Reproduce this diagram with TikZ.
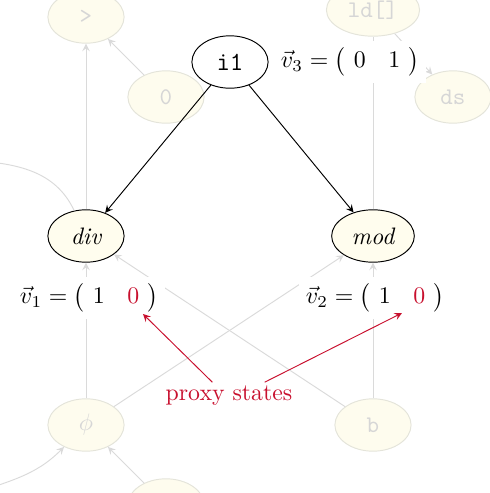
\documentclass[tikz,border=0pt]{standalone}
\usetikzlibrary{shapes.geometric}
\definecolor{ghostline}{RGB}{218,218,218}
\definecolor{ghostdraw}{RGB}{228,228,218}
\definecolor{ghostfill}{RGB}{254,252,238}
\definecolor{ghosttext}{RGB}{214,214,214}
\definecolor{livefill}{RGB}{255,253,238}
\definecolor{proxyred}{RGB}{200,16,46}
\newcommand{\statevec}[3]{$\vec{v}_{#1}=\bigl(\ #2\hspace{9.5pt}#3\ \bigr)$}
\begin{document}
\begin{tikzpicture}[x=0.42pt,y=0.42pt,
  ghost/.style={ellipse,draw=ghostdraw,fill=ghostfill,text=ghosttext,minimum width=32pt,minimum height=22pt,font=\ttfamily},
  live/.style={ellipse,draw=black,fill=livefill,minimum width=32pt,minimum height=22pt,font=\itshape},
  ghostedge/.style={draw=ghostline,-stealth},
  state/.style={fill=white,inner sep=3pt}]
\useasboundingbox (0,0) rectangle (490,493);
\clip (0,0) rectangle (490,493);
% faded part of the graph
\node[ghost](gt) at (86,476){>};
\node[ghost](zero) at (166,396){0};
\node[ghost](ld) at (373,483){ld[]};
\node[ghost](ds) at (453,396){ds};
\node[ghost](phi) at (86,68){$\phi$};
\node[ghost](b) at (373,68){b};
\node[ghost](bot) at (166,-12){};
\coordinate(west1) at (-30,333);
\coordinate(west2) at (-30,-2);
\node[live](div) at (86,257){div};
\node[live](mod) at (373,257){mod};
\draw[ghostedge](div)--(gt);
\draw[ghostedge](zero)--(gt);
\draw[ghostedge](ld)--(ds);
\draw[ghostline](mod)--(ld);
\draw[ghostedge](b)--(div);
\draw[ghostedge](phi)--(mod);
\draw[ghostedge](phi)--(div);
\draw[ghostedge](b)--(mod);
\draw[ghostedge](bot)--(phi);
\draw[ghostedge](div) to[out=115,in=-5](west1);
\draw[ghostedge](west2) to[out=20,in=-135](phi);
% state vectors
\node[state](v1) at (89,195){\statevec{1}{1}{\textcolor{proxyred}{0}}};
\node[state](v2) at (375,195){\statevec{2}{1}{\textcolor{proxyred}{0}}};
\node[state](v3) at (350,431){\statevec{3}{0}{1}};
% the instruction
\node[ellipse,draw,fill=white,minimum width=32pt,minimum height=22pt,font=\ttfamily\fontsize{11}{13}\selectfont](i1) at (230,431){i1};
\draw[-stealth](i1)--(div);
\draw[-stealth](i1)--(mod);
% proxies
\node[text=proxyred,inner sep=1.5pt](proxy) at (229,97){proxy states};
\coordinate(red1) at (143,179);
\coordinate(red2) at (402,180);
\draw[proxyred,-stealth]([xshift=-7pt]proxy.north)--(red1);
\draw[proxyred,-stealth]([xshift=15pt]proxy.north)--(red2);
\end{tikzpicture}
\end{document}
